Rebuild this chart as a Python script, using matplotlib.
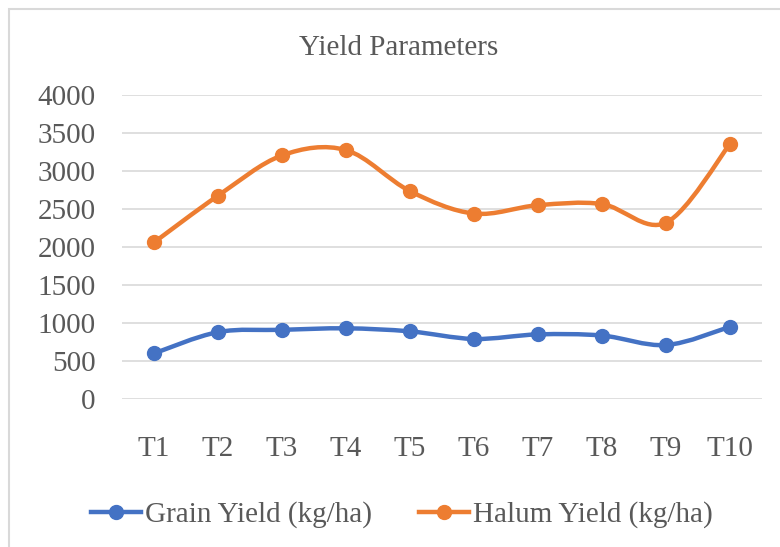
import numpy as np
import matplotlib
matplotlib.use("Agg")
import matplotlib.pyplot as plt
from matplotlib.path import Path
from matplotlib.patches import PathPatch, Rectangle
from matplotlib.lines import Line2D

# data
treatments = ["T1", "T2", "T3", "T4", "T5", "T6", "T7", "T8", "T9", "T10"]
grain_yield = [600, 880, 910, 930, 890, 790, 850, 835, 710, 950]
halum_yield = [2060, 2675, 3205, 3275, 2735, 2440, 2550, 2565, 2320, 3355]

BLUE = "#4472C4"
ORANGE = "#ED7D31"
TXT = "#595959"
GRID = "#D9D9D9"

plt.rcParams["font.family"] = ["Liberation Serif", "DejaVu Serif"]


def smooth_path(xs, ys):
    # excel-style smoothed line: catmull-rom segments as cubic beziers
    pts = np.column_stack([xs, ys]).astype(float)
    n = len(pts)
    verts = [pts[0]]
    codes = [Path.MOVETO]
    for i in range(n - 1):
        p_prev = pts[i - 1] if i > 0 else pts[i]
        p_next2 = pts[i + 2] if i + 2 < n else pts[i + 1]
        c1 = pts[i] + (pts[i + 1] - p_prev) / 6.0
        c2 = pts[i + 1] - (p_next2 - pts[i]) / 6.0
        verts += [c1, c2, pts[i + 1]]
        codes += [Path.CURVE4] * 3
    return Path(verts, codes)


fig = plt.figure(figsize=(7.8, 5.47), dpi=100)
ax = fig.add_axes([122 / 780, 148 / 547, 640 / 780, 304 / 547])

x = np.arange(len(treatments))
for vals, col in [(grain_yield, BLUE), (halum_yield, ORANGE)]:
    ax.add_patch(PathPatch(smooth_path(x, vals), facecolor="none", edgecolor=col,
                           linewidth=3.2, capstyle="round", joinstyle="round", zorder=3))
    ax.plot(x, vals, linestyle="none", marker="o", markersize=10, color=col, zorder=4)

ax.set_xlim(-0.5, len(treatments) - 0.5)
ax.set_ylim(0, 4000)
ax.set_yticks(np.arange(0, 4001, 500))
ax.set_xticks(x)
ax.set_xticklabels(treatments)
ax.yaxis.grid(True, color=GRID, linewidth=1.2)
ax.set_axisbelow(True)
for s in ax.spines.values():
    s.set_visible(False)
ax.tick_params(axis="both", length=0, labelsize=21, colors=TXT)
ax.tick_params(axis="y", pad=19)
ax.tick_params(axis="x", pad=27)

fig.text(399 / 780, 1 - 48 / 547, "Yield Parameters", ha="center", va="center",
         fontsize=21, color=TXT)

handles = [
    Line2D([], [], color=BLUE, linewidth=3.2, marker="o", markersize=10),
    Line2D([], [], color=ORANGE, linewidth=3.2, marker="o", markersize=10),
]
fig.legend(handles, ["Grain Yield (kg/ha)", "Halum Yield (kg/ha)"],
           loc="center", bbox_to_anchor=(402 / 780, 1 - 515 / 547), ncol=2,
           frameon=False, fontsize=21, labelcolor=TXT, handlelength=1.7,
           handletextpad=0.15, columnspacing=1.6)

# chart border (right and bottom edges fall outside the image)
fig.patches.append(Rectangle((9 / 780, -0.1), 1.5, 1.1 - 9 / 547, transform=fig.transFigure,
                             fill=False, edgecolor=GRID, linewidth=1.5))

fig.savefig("out.png", dpi=100)
